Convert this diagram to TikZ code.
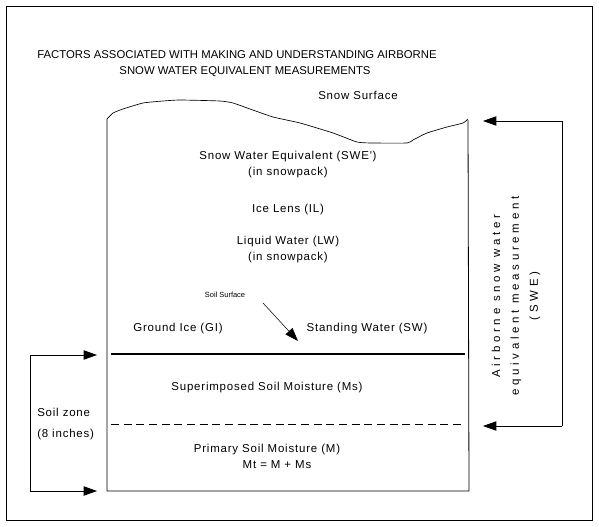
\documentclass[tikz,border=0pt]{standalone}
\usepackage{fontspec}
\setmainfont{Liberation Sans}
\newfontfamily\bodyfont[LetterSpace=7]{Liberation Sans}
\newfontfamily\spaced[LetterSpace=32]{Liberation Sans}
\usetikzlibrary{arrows.meta,positioning}
\tikzset{
  lbl/.style={inner sep=0pt,font=\bodyfont\fontsize{8.6}{12}\selectfont},
  head/.style={inner sep=0pt,font=\fontsize{8.5}{12}\selectfont},
  tiny/.style={inner sep=0pt,font=\fontsize{5.6}{7}\selectfont},
  wall/.style={line width=0.6pt},
  meas/.style={line width=0.6pt,-{Triangle[length=10pt,width=7pt]}},
}

\begin{document}
\begin{tikzpicture}[x=0.75pt,y=-0.75pt]
  \useasboundingbox (0,0) rectangle (599,527);
  \draw[wall] (6,6) rectangle (592,520);
  % snow column
  \coordinate (wl) at (107,119);
  \coordinate (wr) at (468,120);
  \coordinate (bl) at (107,491);
  \coordinate (br) at (469,491);
  \draw[wall] (wl) -- (bl) -- (br) -- (wr);
  \draw[line width=0.5pt] (wl) plot[smooth,tension=0.3] coordinates {(107,119) (113,113) (123,109) (143,103) (163,101) (180,100) (220,101) (233,103) (250,109) (273,117) (300,123) (333,133) (357,142) (372,143) (407,143) (413,140) (427,133) (447,127) (463,123) (468,119)};
  % soil layers
  \coordinate (sl) at (111,354);
  \coordinate (sr) at (465,354);
  \draw[line width=1.6pt] (sl) -- (sr);
  \coordinate (dl) at (111,424);
  \coordinate (dr) at (465,424);
  \draw[wall,dash pattern=on 6pt off 3.5pt] (dl) -- (dr);
  % labels
  \node[head] (t1) at (237,55) {FACTORS ASSOCIATED WITH MAKING AND UNDERSTANDING AIRBORNE};
  \node[head] (t2) at (245,72) {SNOW WATER EQUIVALENT MEASUREMENTS};
  \node[lbl] (surf) at (358,95) {Snow Surface};
  \node[lbl] (swe) at (288,157) {Snow Water Equivalent (SWE')};
  \node[lbl] (swe2) at (288,173) {(in snowpack)};
  \node[lbl] (il) at (288,210) {Ice Lens (IL)};
  \node[lbl] (lw) at (288,242) {Liquid Water (LW)};
  \node[lbl] (lw2) at (288,258) {(in snowpack)};
  \node[tiny] (ss) at (225,295) {Soil Surface};
  \node[lbl] (gi) at (178,329) {Ground Ice (GI)};
  \node[lbl] (sw) at (367,329) {Standing Water (SW)};
  \node[lbl] (ms) at (267,388) {Superimposed Soil Moisture (Ms)};
  \node[lbl] (m) at (267,450) {Primary Soil Moisture (M)};
  \node[lbl] (mt) at (277,465) {Mt = M + Ms};
  \node[lbl,align=left,anchor=west,font=\bodyfont\fontsize{8.6}{16}\selectfont] (zone) at (37,424) {Soil zone\\(8 inches)};
  \node[lbl,rotate=90,align=center,font=\spaced\fontsize{8.6}{14.2}\selectfont] (air) at (516,296)
    {Airborne snow water\\equivalent measurement\\(SWE)};
  % soil surface pointer
  \coordinate (sp) at (263,303);
  \coordinate (sq) at (298,341);
  \draw[line width=0.4pt,-{Triangle[length=10pt,width=7pt]}] (sp) -- (sq);
  % soil zone bracket
  \coordinate (zt) at (30,355);
  \coordinate (zb) at (30,491);
  \coordinate (zta) at (97,355);
  \coordinate (zba) at (97,491);
  \draw[wall] (zt) -- (zb);
  \draw[meas] (zt) -- (zta);
  \draw[meas] (zb) -- (zba);
  % airborne bracket
  \coordinate (at) at (562,121);
  \coordinate (ab) at (562,426);
  \coordinate (ata) at (483,121);
  \coordinate (aba) at (483,426);
  \draw[wall] (at) -- (ab);
  \draw[meas] (at) -- (ata);
  \draw[meas] (ab) -- (aba);
\end{tikzpicture}
\end{document}
